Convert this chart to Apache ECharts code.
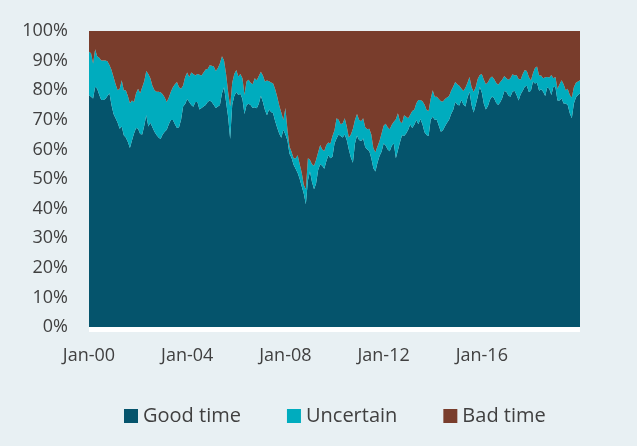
<!DOCTYPE html>
<html><head><meta charset="utf-8">
<script src="https://cdn.jsdelivr.net/npm/echarts@6/dist/echarts.min.js"></script>
<style>html,body{margin:0;padding:0;background:#e8f0f3;}#c{width:637px;height:446px;}</style>
</head><body><div id="c"></div>
<script>
// Monthly observations, Jan-00 .. Jan-20 (shares of total, %)
const monthNames = ['Jan','Feb','Mar','Apr','May','Jun','Jul','Aug','Sep','Oct','Nov','Dec'];
const firstYear = 2000, lastYear = 2020;
const tickLabels = ['Jan-00','Jan-04','Jan-08','Jan-12','Jan-16'];

const goodTime = [
78.4,77.8,77.2,81.2,80.5,78.5,76.7,76.7,77,78,79,75,
72,70.5,69,67,67.7,64.8,64,62.5,60.5,63,65.4,67.2,
67,65.2,65,68,71.5,67.7,69,67.5,66,64.9,64,63.5,
65,66,66.6,68.5,69.9,69.9,68.5,67.2,67.5,70,74.5,75.3,
77,76,75,74.4,76,76,73.5,74,74.5,75,76,76.5,
76,75,74,74.5,75,79,81,76,71,63.5,75,78,
79.4,78.4,78.8,77,72,75,75.4,75,74,74.2,73.9,75.4,
78.1,76,73.3,71.5,73.5,72.6,72.2,69.5,67.3,65.3,63.9,66.6,
65,63,58.5,57.2,54.8,53.5,52,50,47.5,45,41.5,49.5,
52.5,49,46.5,48.5,53,55,54.5,53.5,56,58,57,57.5,
62,63.7,65,64.5,64,65,63.2,60,57.3,55.5,62,64.7,
63.2,62.8,63.7,60.8,60,59.5,57,53.6,52.5,55.5,57.8,59.2,
62,61.3,60,59.4,61.2,62,57,59.7,62.4,64.8,64.5,65.4,
66.6,68.4,67.2,68.3,69.9,68.5,70.3,68.5,65.8,64.9,64.5,70,
71,70,70,68,66,66.5,67.8,69,70,72,73.3,76,
75.2,74.8,76.7,75.2,74.5,77.5,79.5,75,72.5,75,77.8,81.2,
79.2,75.4,73.5,74.7,76.8,77.9,77.3,75.8,75,75.9,77.4,79.7,
79.5,78.2,77.8,79.5,79.8,78.4,76.5,78.6,79.8,81.2,81.5,79.4,
79.8,82.9,82.3,82.5,79.8,80.3,79.5,78,81,80.5,78.4,81.2,
81,76.5,76.5,77.2,75.5,75.5,75,72.2,70.5,75.5,77.5,78.4,
78.9];

const uncertain = [
14.6,14.7,11.8,12.6,11,12.5,13.3,13.3,13,11.8,9.5,11.8,
12.5,11.5,11,13.5,15.7,15.2,16,15.5,15.1,13.5,10.6,11.8,
13.5,13.8,16,15,15,17.8,15,14,14,14.6,15.5,15.8,
13.6,11.5,9.4,9,9.6,11.1,13.5,15.6,13.5,10.5,7.1,9.2,
9,8.5,11,11.1,9,9.5,11.7,11,11.5,12,11.2,11.9,
12.3,13,12.5,13,14.1,12.5,9,9.5,8.5,11,7.5,7.5,
7.4,6.2,6.7,7,6.5,7.9,8.1,7.5,8,9.8,9.5,9.4,
8.1,9,9.6,11.8,9.5,10,10.1,10.8,10.5,9.5,8.6,3.3,
9,3.6,2.5,2,2.2,3.5,6,5,4.5,3,5,7.5,
4,6,8,8,6,6.5,5.5,6,5.5,4.3,5,7,
4.5,6.8,5,4,4.8,5.5,4.5,4,7.7,11.5,7.9,7.3,
6.8,6.7,6.8,6.7,6.8,7.5,8,6.8,6.5,5.5,5,6.2,
6,7.4,7.5,7.4,7.1,7.3,13.2,12.5,7.1,4,7,5.6,
3.9,3.3,5.8,5.1,5.7,8.2,6.4,7.8,9.4,8.4,8.5,7,
9,7.8,7.8,9,10.3,9.7,9.2,8.5,8,7.8,7.9,6.8,
6.8,6.7,3.9,4.5,6.3,5,5,6,7,6,6,3.9,
6.3,8.1,8.5,8,7.2,6.7,6.5,6.7,6.8,6.9,6.2,5.1,
4.5,5.3,6.2,5.9,5.2,6.7,7.3,5,5.7,5.6,5,5.1,
3.5,2.8,5.2,5.5,5.2,4.7,4.5,6.4,3.5,3.8,6.7,2.8,
3.5,4,5.5,6.2,6.5,4.5,5.5,6.2,7,5.5,5,4.5,
4.5];

const badTime = [
7,7.5,11,6.2,8.5,9,10,10,10,10.2,11.5,13.2,
15.5,18,20,19.5,16.6,20,20,22,24.4,23.5,24,21,
19.5,21,19,17,13.5,14.5,16,18.5,20,20.5,20.5,20.7,
21.4,22.5,24,22.5,20.5,19,18,17.2,19,19.5,18.4,15.5,
14,15.5,14,14.5,15,14.5,14.8,15,14,13,12.8,11.6,
11.7,12,13.5,12.5,10.9,8.5,10,14.5,20.5,25.5,17.5,14.5,
13.2,15.4,14.5,16,21.5,17.1,16.5,17.5,18,16,16.6,15.2,
13.8,15,17.1,16.7,17,17.4,17.7,19.7,22.2,25.2,27.5,30.1,
26,33.4,39,40.8,43,43,42,45,48,52,53.5,43,
43.5,45,45.5,43.5,41,38.5,40,40.5,38.5,37.7,38,35.5,
33.5,29.5,30,31.5,31.2,29.5,32.3,36,35,33,30.1,28,
30,30.5,29.5,32.5,33.2,33,35,39.6,41,39,37.2,34.6,
32,31.3,32.5,33.2,31.7,30.7,29.8,27.8,30.5,31.2,28.5,29,
29.5,28.3,27,26.6,24.4,23.3,23.3,23.7,24.8,26.7,27,23,
20,22.2,22.2,23,23.7,23.8,23,22.5,22,20.2,18.8,17.2,
18,18.5,19.4,20.3,19.2,17.5,15.5,19,20.5,19,16.2,14.9,
14.5,16.5,18,17.3,16,15.4,16.2,17.5,18.2,17.2,16.4,15.2,
16,16.5,16,14.6,15,14.9,16.2,16.4,14.5,13.2,13.5,15.5,
16.7,14.3,12.5,12,15,15,16,15.6,15.5,15.7,14.9,16,
15.5,19.5,18,16.6,18,20,19.5,21.6,22.5,19,17.5,17.1,
16.6];

const categories = [];
for (let y = firstYear; y <= lastYear; y++) {
  for (const m of monthNames) {
    if (y === lastYear && m !== 'Jan') break;
    categories.push(m + '-' + String(y % 100).padStart(2, '0'));
  }
}

const FONT = '"Open Sans", "Noto Sans", sans-serif';
const chart = echarts.init(document.getElementById('c'), null, {renderer: 'canvas'});
const mk = (name, data, color) => ({
  name, type: 'line', stack: 'total', data, showSymbol: false, symbol: 'none',
  lineStyle: {width: 0}, areaStyle: {color, opacity: 1}, itemStyle: {color},
  emphasis: {disabled: true}, silent: true
});
chart.setOption({
  animation: false,
  backgroundColor: '#e8f0f3',
  grid: {left: 89, right: 57, top: 31, bottom: 119, containLabel: false},
  xAxis: {
    type: 'category', data: categories, boundaryGap: false,
    axisLine: {show: false}, axisTick: {show: false},
    axisLabel: {
      interval: (i, v) => tickLabels.indexOf(v) >= 0,
      color: '#404040', fontFamily: FONT, fontSize: 18, margin: 20
    },
    splitLine: {show: false}
  },
  yAxis: {
    type: 'value', min: 0, max: 100, interval: 10,
    axisLine: {show: false}, axisTick: {show: false}, splitLine: {show: false},
    axisLabel: {formatter: '{value}%', color: '#404040', fontFamily: FONT, fontSize: 18, margin: 21}
  },
  legend: {
    left: 119, top: 401, itemWidth: 14, itemHeight: 14, itemGap: 46, icon: 'rect',
    textStyle: {color: '#404040', fontFamily: FONT, fontSize: 20, padding: [0, 0, 0, 0]},
    data: ['Good time', 'Uncertain', 'Bad time']
  },
  graphic: [{type: 'rect', left: 89, top: 327, shape: {width: 491, height: 5}, style: {fill: '#ffffff'}, silent: true}],
  series: [
    mk('Good time', goodTime, '#05546c'),
    mk('Uncertain', uncertain, '#00acbe'),
    mk('Bad time', badTime, '#793d2c')
  ]
});
</script></body></html>
